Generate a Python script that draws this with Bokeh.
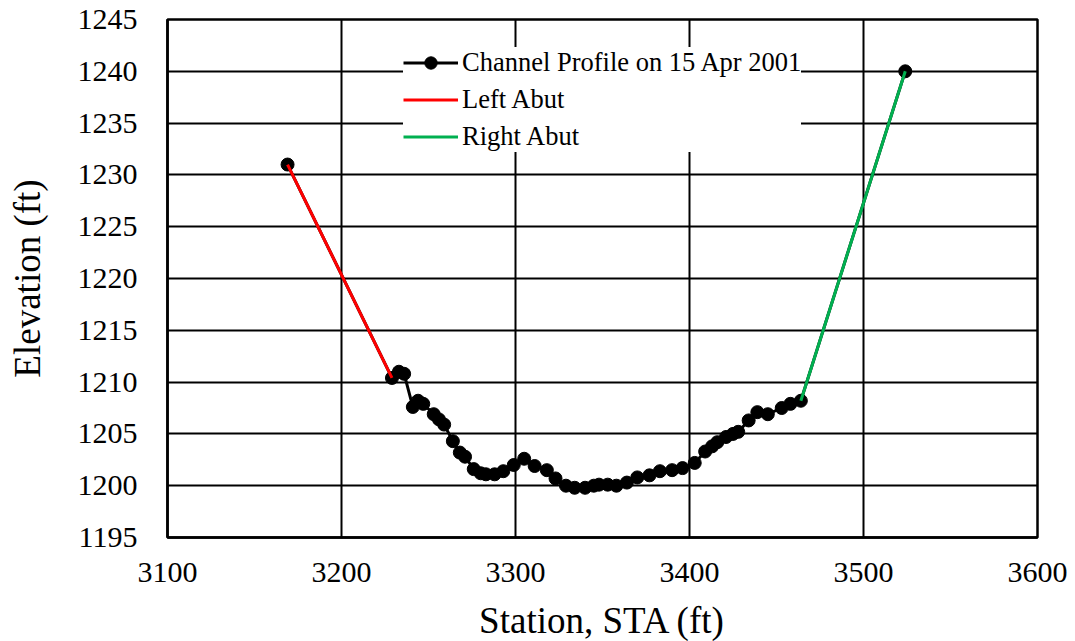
from bokeh.plotting import figure
from bokeh.models import Range1d, Legend, LegendItem
from bokeh.embed import file_html
from bokeh.resources import INLINE

station = [3169, 3229, 3233, 3236, 3241, 3244, 3247, 3253, 3256, 3259,
           3264, 3268, 3271, 3276, 3280, 3283, 3288, 3293, 3299, 3305,
           3311, 3318, 3323, 3329, 3334, 3340, 3345, 3348, 3353, 3358,
           3364, 3370, 3377, 3383, 3390, 3396, 3403, 3409, 3413, 3416,
           3421, 3425, 3428, 3434, 3439, 3445, 3453, 3458, 3464, 3524]
elevation = [1231.0, 1210.4, 1211.0, 1210.8, 1207.6, 1208.2, 1207.9, 1206.9, 1206.4, 1205.9,
             1204.3, 1203.2, 1202.8, 1201.6, 1201.2, 1201.1, 1201.1, 1201.4, 1202.0, 1202.6,
             1201.9, 1201.5, 1200.7, 1200.0, 1199.8, 1199.8, 1200.0, 1200.1, 1200.1, 1200.0,
             1200.3, 1200.8, 1201.0, 1201.4, 1201.5, 1201.7, 1202.2, 1203.3, 1203.8, 1204.2,
             1204.7, 1205.0, 1205.2, 1206.3, 1207.1, 1206.9, 1207.5, 1207.9, 1208.2, 1240.0]

left_abut_x = [3169, 3229]
left_abut_y = [1231.0, 1210.4]
right_abut_x = [3464, 3524]
right_abut_y = [1208.2, 1240.0]

x_ticks = [3100, 3200, 3300, 3400, 3500, 3600]
y_ticks = [1195, 1200, 1205, 1210, 1215, 1220, 1225, 1230, 1235, 1240, 1245]

FONT = "Liberation Serif"

p = figure(frame_width=870, frame_height=518, output_backend="svg", toolbar_location=None,
           x_range=Range1d(x_ticks[0], x_ticks[-1]), y_range=Range1d(y_ticks[0], y_ticks[-1]),
           min_border_left=167, min_border_top=19, min_border_right=30, min_border_bottom=90)

p.outline_line_color = "black"
p.outline_line_width = 2.5
p.background_fill_color = "white"
p.border_fill_color = "white"

p.xaxis.ticker = x_ticks
p.yaxis.ticker = y_ticks
for ax in (p.xaxis, p.yaxis):
    ax.axis_line_color = "black"
    ax.axis_line_width = 2.5
    ax.major_tick_line_color = None
    ax.minor_tick_line_color = None
    ax.major_tick_out = 0
    ax.major_tick_in = 0
    ax.major_label_text_font = FONT
    ax.major_label_text_font_size = "30px"
    ax.major_label_text_color = "black"
    ax.axis_label_text_font = FONT
    ax.axis_label_text_font_size = "37px"
    ax.axis_label_text_font_style = "normal"
    ax.axis_label_text_color = "black"
p.xaxis.major_label_standoff = 25
p.yaxis.major_label_standoff = 30
p.xaxis.axis_label = "Station, STA (ft)"
p.yaxis.axis_label = "Elevation (ft)"
p.xaxis.axis_label_standoff = 15
p.yaxis.axis_label_standoff = 27

p.xgrid.grid_line_color = "black"
p.ygrid.grid_line_color = "black"
p.xgrid.grid_line_width = 2
p.ygrid.grid_line_width = 2

prof_line = p.line(station, elevation, line_color="black", line_width=3)
prof_pts = p.scatter(station, elevation, size=13, fill_color="black", line_color="black")
left = p.line(left_abut_x, left_abut_y, line_color="#ff0000", line_width=3)
right = p.line(right_abut_x, right_abut_y, line_color="#00b050", line_width=3)

legend = Legend(items=[
    LegendItem(label="Channel Profile on 15 Apr 2001", renderers=[prof_line, prof_pts]),
    LegendItem(label="Left Abut", renderers=[left]),
    LegendItem(label="Right Abut", renderers=[right]),
], location=(236, 385))
legend.label_text_font = FONT
legend.label_text_font_size = "26.5px"
legend.label_text_color = "black"
legend.border_line_color = None
legend.background_fill_color = "white"
legend.background_fill_alpha = 1
legend.glyph_width = 55
legend.glyph_height = 31
legend.label_height = 31
legend.label_standoff = 4
legend.spacing = 6
legend.padding = 8
legend.margin = 0
p.add_layout(legend, "center")

open("out.html", "w").write(file_html(p, INLINE))
